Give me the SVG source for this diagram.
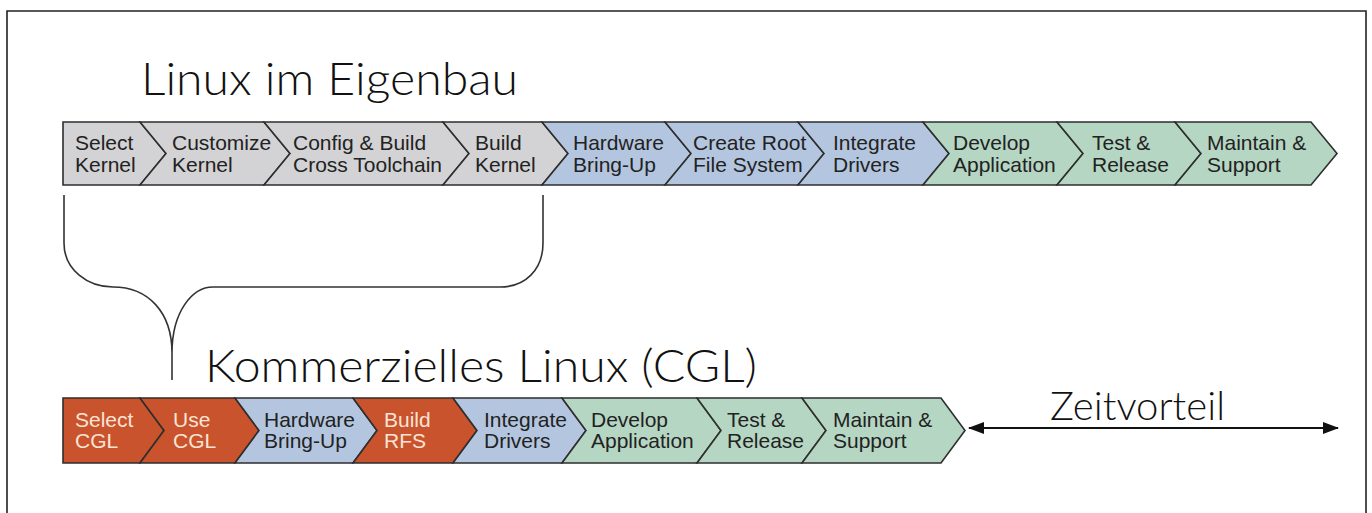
<svg xmlns="http://www.w3.org/2000/svg" width="1372" height="513" viewBox="0 0 1372 513">
<defs>
<style>
.g{fill:#d3d3d5}.b{fill:#b4c6df}.n{fill:#b5d6c3}.o{fill:#c8532c}
.s polygon{stroke:#2e2e2e;stroke-width:1.6;stroke-linejoin:miter}
text{font-family:"Liberation Sans",Arial,sans-serif;fill:#222}
.t{font-size:21px}
.w{fill:#fbe4d5}
.h{font-family:Lato,"Liberation Sans",sans-serif;font-weight:300;font-size:45px;fill:#111}
.ln{fill:none;stroke:#333;stroke-width:1.6}
</style>
<marker id="ah" markerWidth="16" markerHeight="12" refX="15" refY="6" orient="auto-start-reverse" markerUnits="userSpaceOnUse">
<path d="M0,0 L16,6 L0,12 Z" fill="#111"/>
</marker>
</defs>
<rect width="1372" height="513" fill="#fff"/>
<path d="M7,513 V11 H1366 V513" fill="none" stroke="#222" stroke-width="1.6"/>

<text class="h" x="141" y="95" textLength="377" lengthAdjust="spacingAndGlyphs">Linux im Eigenbau</text>
<text class="h" x="205" y="382" textLength="552" lengthAdjust="spacingAndGlyphs">Kommerzielles Linux (CGL)</text>

<g class="s">
<g id="t1"><polygon class="g" points="63,122 140,122 166,153.5 140,185 63,185"/><text class="t" x="75" y="150">Select</text><text class="t" x="75" y="172">Kernel</text></g>
<g id="t2"><polygon class="g" points="140,122 264,122 290,153.5 264,185 140,185 166,153.5"/><text class="t" x="172" y="150">Customize</text><text class="t" x="172" y="172">Kernel</text></g>
<g id="t3"><polygon class="g" points="264,122 443,122 469,153.5 443,185 264,185 290,153.5"/><text class="t" x="293" y="150">Config &amp; Build</text><text class="t" x="293" y="172">Cross Toolchain</text></g>
<g id="t4"><polygon class="g" points="443,122 542,122 568,153.5 542,185 443,185 469,153.5"/><text class="t" x="475" y="150">Build</text><text class="t" x="475" y="172">Kernel</text></g>
<g id="t5"><polygon class="b" points="542,122 665,122 691,153.5 665,185 542,185 568,153.5"/><text class="t" x="573" y="150">Hardware</text><text class="t" x="573" y="172">Bring-Up</text></g>
<g id="t6"><polygon class="b" points="665,122 798,122 824,153.5 798,185 665,185 691,153.5"/><text class="t" x="693" y="150">Create Root</text><text class="t" x="693" y="172">File System</text></g>
<g id="t7"><polygon class="b" points="798,122 923,122 949,153.5 923,185 798,185 824,153.5"/><text class="t" x="833" y="150">Integrate</text><text class="t" x="833" y="172">Drivers</text></g>
<g id="t8"><polygon class="n" points="923,122 1057,122 1083,153.5 1057,185 923,185 949,153.5"/><text class="t" x="953" y="150">Develop</text><text class="t" x="953" y="172">Application</text></g>
<g id="t9"><polygon class="n" points="1057,122 1175,122 1201,153.5 1175,185 1057,185 1083,153.5"/><text class="t" x="1092" y="150">Test &amp;</text><text class="t" x="1092" y="172">Release</text></g>
<g id="t10"><polygon class="n" points="1175,122 1311,122 1337,153.5 1311,185 1175,185 1201,153.5"/><text class="t" x="1207" y="150">Maintain &amp;</text><text class="t" x="1207" y="172">Support</text></g>

<g id="b1"><polygon class="o" points="63,398 140,398 164,430.5 140,463 63,463"/><text class="t w" x="75" y="427">Select</text><text class="t w" x="75" y="448">CGL</text></g>
<g id="b2"><polygon class="o" points="140,398 235,398 259,430.5 235,463 140,463 164,430.5"/><text class="t w" x="173" y="427">Use</text><text class="t w" x="173" y="448">CGL</text></g>
<g id="b3"><polygon class="b" points="235,398 353,398 377,430.5 353,463 235,463 259,430.5"/><text class="t" x="264" y="427">Hardware</text><text class="t" x="264" y="448">Bring-Up</text></g>
<g id="b4"><polygon class="o" points="353,398 453,398 477,430.5 453,463 353,463 377,430.5"/><text class="t w" x="384" y="427">Build</text><text class="t w" x="384" y="448">RFS</text></g>
<g id="b5"><polygon class="b" points="453,398 562,398 586,430.5 562,463 453,463 477,430.5"/><text class="t" x="484" y="427">Integrate</text><text class="t" x="484" y="448">Drivers</text></g>
<g id="b6"><polygon class="n" points="562,398 697,398 721,430.5 697,463 562,463 586,430.5"/><text class="t" x="591" y="427">Develop</text><text class="t" x="591" y="448">Application</text></g>
<g id="b7"><polygon class="n" points="697,398 802,398 826,430.5 802,463 697,463 721,430.5"/><text class="t" x="727" y="427">Test &amp;</text><text class="t" x="727" y="448">Release</text></g>
<g id="b8"><polygon class="n" points="802,398 941,398 965,430.5 941,463 802,463 826,430.5"/><text class="t" x="833" y="427">Maintain &amp;</text><text class="t" x="833" y="448">Support</text></g>
</g>

<g id="connectors">
<path class="ln" d="M64,195 V243 C64,270 88,287 113,287 C148,287 172,312 172,353 V380 M172,353 C172,312 192,287 213,287 H500 C525,287 543,270 543,243 V195"/>
<line x1="969" y1="428" x2="1338" y2="428" stroke="#111" stroke-width="2" marker-start="url(#ah)" marker-end="url(#ah)"/>
</g>
<text class="h" x="1050" y="420" textLength="175" lengthAdjust="spacingAndGlyphs" style="font-size:39px">Zeitvorteil</text>
</svg>
